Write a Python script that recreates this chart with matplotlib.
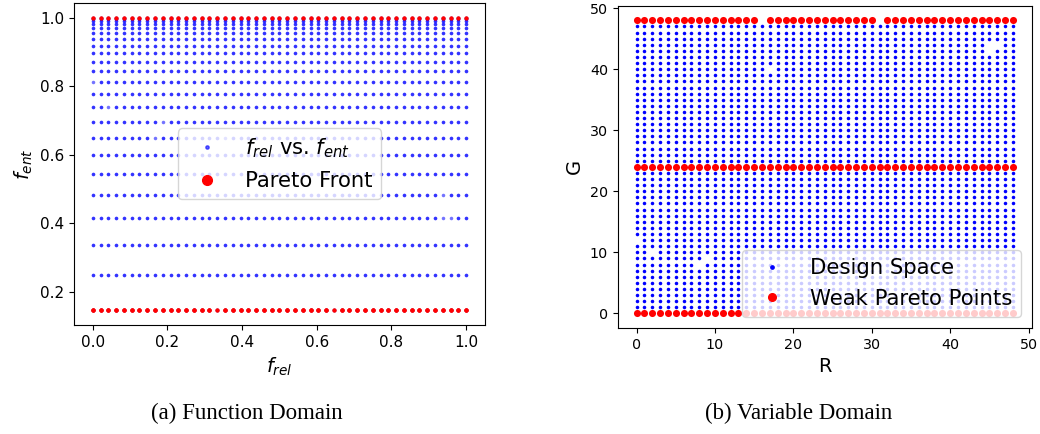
import matplotlib
matplotlib.use("Agg")
import numpy as np
import matplotlib.pyplot as plt
from matplotlib.lines import Line2D

# integer design variables R and G both run over 0..48
grid_vals = list(range(49))

# entropy objective for |G - 24| = 24, 23, ..., 0 (k = 1..24, symmetric in G)
f_ent_levels = [0.146, 0.250, 0.337, 0.414, 0.482, 0.544, 0.600, 0.650,
                0.696, 0.738, 0.777, 0.811, 0.843, 0.871, 0.896, 0.918,
                0.938, 0.954, 0.969, 0.980, 0.989, 0.995, 0.999, 1.000]

# (R, G) pairs that are not part of the design space
missing_points = [(16, 48), (31, 48), (0, 12), (45, 44), (46, 44),
                  (45, 43), (17, 40), (2, 10), (8, 8), (9, 9)]

# G values of the weak Pareto points
pareto_G = [0, 24, 48]


def design_space():
    R, G = np.meshgrid(grid_vals, grid_vals)
    R = R.ravel()
    G = G.ravel()
    keep = np.ones(R.size, dtype=bool)
    for r, g in missing_points:
        keep &= ~((R == r) & (G == g))
    return R[keep], G[keep]


def objectives(R, G):
    levels = np.array(f_ent_levels)
    k = np.clip(np.minimum(G, 48 - G), 1, 24)
    f_rel = R / 48.0
    f_ent = levels[k - 1]
    return f_rel, f_ent


def make_graph(out_path):
    R, G = design_space()
    f_rel, f_ent = objectives(R, G)
    front = np.isin(G, pareto_G)

    fig = plt.figure(figsize=(10.4, 4.34), dpi=100)
    ax1 = fig.add_axes([0.0712, 0.2512, 0.395, 0.742])
    ax2 = fig.add_axes([0.594, 0.2442, 0.398, 0.7426])

    # function domain
    ax1.scatter(f_rel, f_ent, s=6.5, color='blue', alpha=0.55, linewidths=0)
    ax1.scatter(f_rel[front], f_ent[front], s=10, color='red', linewidths=0)
    ax1.set_xlabel(r'$f_{rel}$', fontsize=14)
    ax1.set_ylabel(r'$f_{ent}$', fontsize=14)
    ax1.tick_params(labelsize=11)
    h1 = [Line2D([], [], ls='', marker='o', color='blue', alpha=0.6, markersize=2.4),
          Line2D([], [], ls='', marker='o', color='red', markersize=7)]
    ax1.legend(h1, [r'$f_{rel}$ vs. $f_{ent}$', 'Pareto Front'],
               loc='center', fontsize=15.2)

    # variable domain
    ax2.scatter(R, G, s=6.5, color='blue', linewidths=0)
    ax2.scatter(R[front], G[front], s=26, color='red', linewidths=0)
    ax2.set_xlabel('R', fontsize=14)
    ax2.set_ylabel('G', fontsize=14)
    ax2.tick_params(labelsize=10.3)
    ax2.set_xticks([0, 10, 20, 30, 40, 50])
    h2 = [Line2D([], [], ls='', marker='o', color='blue', markersize=2.4),
          Line2D([], [], ls='', marker='o', color='red', markersize=5.5)]
    ax2.legend(h2, ['Design Space', 'Weak Pareto Points'],
               loc='lower right', fontsize=15.3)

    fig.text(0.2375, 0.047, '(a) Function Domain', ha='center', va='center',
             family='Liberation Serif', fontsize=16.5)
    fig.text(0.768, 0.047, '(b) Variable Domain', ha='center', va='center',
             family='Liberation Serif', fontsize=16.5)

    fig.savefig(out_path, dpi=100)


def main():
    make_graph('out.png')


if __name__ == "__main__":
    main()
